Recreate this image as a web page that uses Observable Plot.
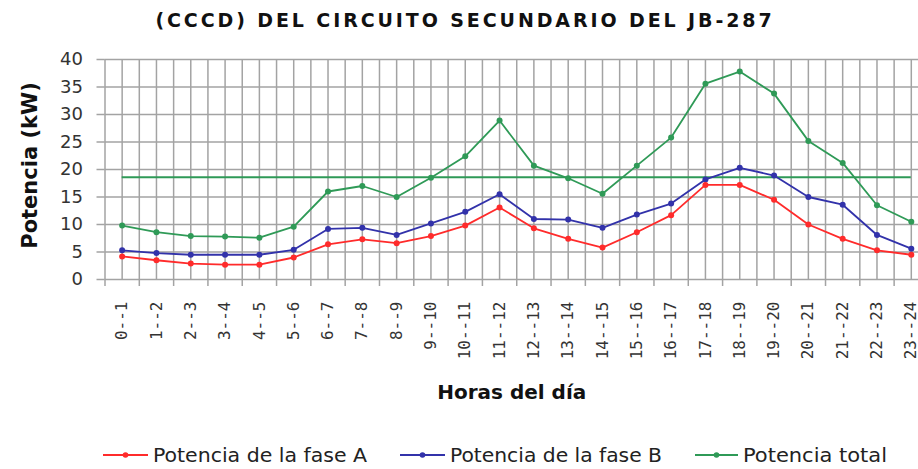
<!DOCTYPE html>
<html><head><meta charset="utf-8">
<script src="https://cdn.jsdelivr.net/npm/d3@7"></script>
<script src="https://cdn.jsdelivr.net/npm/@observablehq/plot@0.6"></script>
<style>
body{margin:0;background:#fff;width:918px;height:469px;overflow:hidden;font-family:"DejaVu Sans",sans-serif;}
#title{height:40px;line-height:40px;text-align:center;font-weight:bold;font-size:19px;letter-spacing:2.9px;color:#111;padding-left:12px;white-space:nowrap;}
#chart svg, #legend svg{display:block}
</style></head><body>
<div id="title">(CCCD) DEL CIRCUITO SECUNDARIO DEL JB-287</div>
<div id="chart"></div>
<div id="legend"></div>
<script>
const horas = ["0--1","1--2","2--3","3--4","4--5","5--6","6--7","7--8","8--9","9--10","10--11","11--12","12--13","13--14","14--15","15--16","16--17","17--18","18--19","19--20","20--21","21--22","22--23","23--24"];
const faseA = [4.2,3.5,2.9,2.7,2.7,4.0,6.4,7.3,6.6,7.9,9.8,13.1,9.3,7.4,5.8,8.6,11.7,17.2,17.2,14.5,10.0,7.4,5.3,4.5];
const faseB = [5.3,4.8,4.5,4.5,4.5,5.4,9.2,9.4,8.1,10.2,12.3,15.5,11.0,10.9,9.4,11.8,13.8,18.2,20.3,18.9,15.0,13.6,8.1,5.6];
const total = [9.8,8.6,7.9,7.8,7.6,9.6,16.0,17.0,15.0,18.5,22.4,28.9,20.7,18.4,15.6,20.7,25.8,35.6,37.8,33.8,25.2,21.2,13.5,10.5];
const promedio = 18.6;
const yTicks = [0,5,10,15,20,25,30,35,40];
const series = [
  {name:"Potencia de la fase A", key:"a", color:"#ff2b2b"},
  {name:"Potencia de la fase B", key:"b", color:"#3232aa"},
  {name:"Potencia total", key:"t", color:"#2f9a57"}
];

const data = horas.map((h,i)=>({i, h, a: faseA[i], b: faseB[i], t: total[i]}));
const grid = "#a3a3a3";
const cT = series[2].color;

const lineMarks = [];
for (const s of [series[2], series[1], series[0]]) {
  lineMarks.push(Plot.line(data, {x:"i", y:s.key, stroke:s.color, strokeWidth:1.8}));
  lineMarks.push(Plot.dot(data, {x:"i", y:s.key, fill:s.color, r:3}));
}

const plot = Plot.plot({
  width: 918, height: 385,
  marginTop: 19, marginBottom: 146, marginLeft: 104.5, marginRight: 0,
  x: {domain: [-0.5, 23.21], label: null},
  y: {domain: [0, 40], label: null},
  style: {fontFamily: "DejaVu Sans", background: "#fff", overflow: "hidden"},
  marks: [
    Plot.ruleX(d3.range(-0.5, 23.01, 0.5), {stroke: grid, strokeWidth: 1.5}),
    Plot.ruleY(yTicks, {stroke: grid, strokeWidth: 1.5}),
    Plot.axisY({ticks: yTicks, tickSize: 8, tickPadding: 14, stroke: grid, strokeWidth: 1.5, fill: "#333", fontSize: 18}),
    Plot.axisX({ticks: d3.range(-0.5, 23, 1), tickSize: 7, tickFormat: () => "", stroke: grid, strokeWidth: 1.5}),
    Plot.axisX({ticks: d3.range(24), tickSize: 0, tickPadding: 22, tickRotate: -90, tickFormat: i => horas[i], fontFamily: "DejaVu Sans Mono", fontSize: 16, fill: "#333"}),
    Plot.ruleY([promedio], {x1: 0, x2: 23, stroke: cT, strokeWidth: 2}),
    ...lineMarks,
    Plot.text(["Potencia (kW)"], {text: d => d, frameAnchor: "left", textAnchor: "middle", rotate: -90, dx: -75, dy: -4, fontWeight: "bold", fontSize: 21, fill: "#111"}),
    Plot.text(["Horas del día"], {text: d => d, frameAnchor: "bottom", dy: 119, fontWeight: "bold", fontSize: 20, fill: "#111"})
  ]
});
document.getElementById("chart").appendChild(plot);

// legend
const lx = [{x0:103, x1:148, tx:153, w:214}, {x0:400, x1:445, tx:450, w:212}, {x0:695, x1:738, tx:743, w:144}];
const lg = d3.select("#legend").append("svg").attr("width", 918).attr("height", 44);
series.forEach((s, k) => {
  const p = lx[k];
  lg.append("line").attr("x1", p.x0).attr("x2", p.x1).attr("y1", 30).attr("y2", 30).attr("stroke", s.color).attr("stroke-width", 2);
  lg.append("circle").attr("cx", (p.x0 + p.x1) / 2).attr("cy", 30).attr("r", 2.8).attr("fill", s.color);
  lg.append("text").attr("x", p.tx).attr("y", 37).attr("font-size", 20)
    .attr("font-family", "'DejaVu Sans Condensed', 'DejaVu Sans', sans-serif")
    .attr("fill", "#222").attr("textLength", p.w).attr("lengthAdjust", "spacingAndGlyphs").text(s.name);
});
</script>
</body></html>
